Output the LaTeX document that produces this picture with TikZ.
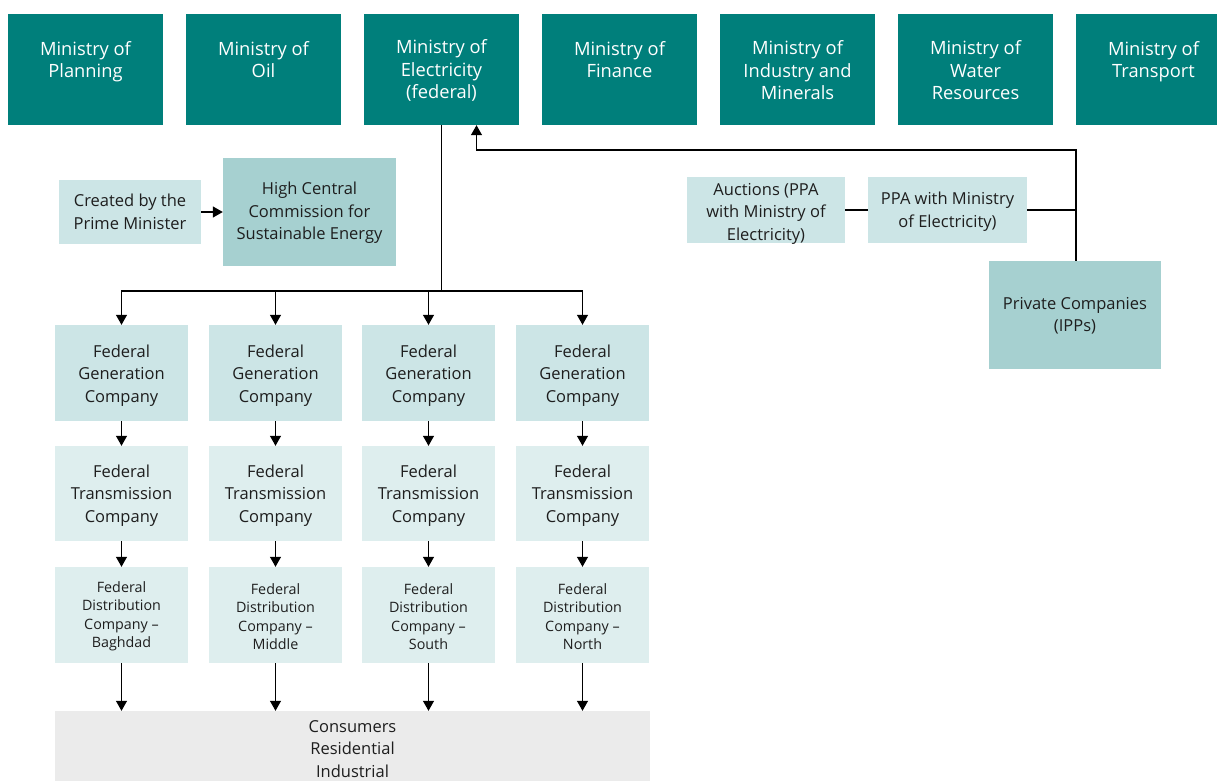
\documentclass[tikz,border=0pt]{standalone}
\usepackage{fontspec}
\setmainfont{Open Sans}
\usetikzlibrary{arrows.meta}
\definecolor{dteal}{HTML}{007F7B}
\definecolor{mteal}{HTML}{A6D0D0}
\definecolor{lteal}{HTML}{CCE5E6}
\definecolor{xlteal}{HTML}{DEEEEE}
\definecolor{cgrey}{HTML}{EBEBEB}
\definecolor{txt}{HTML}{1E1E1E}
\tikzset{
  labn/.style={inner sep=0pt, align=center, text=txt, font=\fontsize{16.5}{22.5}\selectfont},
  labm/.style={inner sep=0pt, align=center, text=white, font=\fontsize{18.3}{22.5}\selectfont},
  labd/.style={inner sep=0pt, align=center, text=txt, font=\fontsize{14.3}{18.5}\selectfont},
  tt/.style n args={3}{label={[#1,yshift=-#2pt]center:{#3}}},
  box/.style={inner sep=0pt},
  ministry/.style={box, fill=dteal, minimum width=155pt, minimum height=111pt},
  genbox/.style={box, fill=lteal, minimum width=133pt, minimum height=96pt},
  trbox/.style={box, fill=xlteal, minimum width=133pt, minimum height=95pt},
  distbox/.style={box, fill=xlteal, minimum width=133pt, minimum height=96pt},
  conn/.style={line width=1.2pt, draw=black},
  arr/.style={conn, -{Triangle[width=11pt,length=10pt]}},
}
\begin{document}
\begin{tikzpicture}[x=1pt,y=-1pt]
\useasboundingbox (0,0) rectangle (1217,781);
% top row
\node[ministry, tt={labm}{1}{Ministry of\\Planning\\\mbox{}}] (plan) at (85.5,69.5) {};
\node[ministry, tt={labm}{1}{Ministry of\\Oil\\\mbox{}}] (oil) at (263.5,69.5) {};
\node[ministry, tt={labm}{1}{Ministry of\\Electricity\\(federal)}] (elec) at (441.5,69.5) {};
\node[ministry, tt={labm}{1}{Ministry of\\Finance\\\mbox{}}] (fin) at (619.5,69.5) {};
\node[ministry, tt={labm}{1}{Ministry of\\Industry and\\Minerals}] (ind) at (797.5,69.5) {};
\node[ministry, tt={labm}{1}{Ministry of\\Water\\Resources}] (wat) at (975.5,69.5) {};
\node[ministry, tt={labm}{1}{Ministry of\\Transport\\\mbox{}}] (tra) at (1153.5,69.5) {};
% second row
\node[box, fill=lteal, minimum width=142pt, minimum height=64pt, tt={labn}{0}{Created by the\\Prime Minister}] (pm) at (130,212) {};
\node[box, fill=mteal, minimum width=173pt, minimum height=108pt, tt={labn}{1}{High Central\\Commission for\\Sustainable Energy}] (hc) at (309.5,212) {};
\node[box, fill=lteal, minimum width=158pt, minimum height=66pt, tt={labn}{3.5}{Auctions (PPA\\with Ministry of\\Electricity)}] (auc) at (766,210) {};
\node[box, fill=lteal, minimum width=159pt, minimum height=66pt, tt={labn}{1.5}{PPA with Ministry\\of Electricity)}] (ppa) at (947.5,210) {};
\node[box, fill=mteal, minimum width=172pt, minimum height=108pt, tt={labn}{0.5}{Private Companies\\(IPPs)}] (ipp) at (1075,315) {};
% columns
\foreach \i/\x/\r in {1/121.5/Baghdad,2/275.5/Middle,3/428.5/South,4/582.5/North}{
  \node[genbox, tt={labn}{2.5}{Federal\\Generation\\Company}] (g\i) at (\x,373) {};
  \node[trbox, tt={labn}{2}{Federal\\Transmission\\Company}] (t\i) at (\x,493.5) {};
  \node[distbox, tt={labd}{1.5}{Federal\\Distribution\\Company --\\\r}] (d\i) at (\x,615) {};
}
\node[box, fill=cgrey, minimum width=595pt, minimum height=72pt, tt={labn}{2}{Consumers\\Residential\\Industrial}] (cons) at (352.5,747) {};
% connectors
\draw[arr] (pm.east) -- (hc.west);
\draw[conn] (auc.east) -- (ppa.west);
\coordinate (bus) at (441.5,291);
\draw[conn] (elec.south) -- (bus);
\foreach \i in {1,2,3,4}{
  \draw[arr] (bus) -| (g\i.north);
  \draw[arr] (g\i.south) -- (t\i.north);
  \draw[arr] (t\i.south) -- (d\i.north);
  \draw[arr] (d\i.south) -- (d\i.south |- cons.north);
}
\coordinate (ret) at (1076,150);
\draw[conn] (ppa.east) -- (ppa.east -| ret);
\draw[arr] (ret |- ipp.north) -- (ret) -| ([xshift=35pt]elec.south);
\end{tikzpicture}
\end{document}
